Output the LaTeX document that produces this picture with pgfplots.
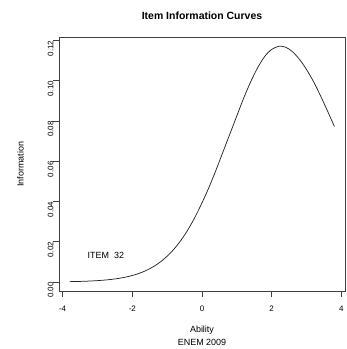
\documentclass[border=0pt]{standalone}
\usepackage{fontspec}
\setmainfont{Liberation Sans}
\usepackage{pgfplots}
\pgfplotsset{compat=1.18}
\begin{document}
\begin{tikzpicture}
\begin{axis}[
  scale only axis,
  width=286bp, height=253.5bp,
  xmin=-4.104, xmax=4.104,
  ymin=-0.00444, ymax=0.1214,
  xtick={-4,-2,0,2,4},
  ytick={0,0.02,0.04,0.06,0.08,0.1,0.12},
  yticklabels={0.00,0.02,0.04,0.06,0.08,0.10,0.12},
  xticklabels={-4,-2,0,2,4},
  tick align=outside,
  major tick length=5.5bp,
  xtick pos=bottom, ytick pos=left,
  axis line style={black!75, line width=0.6bp},
  every tick/.style={black!75, line width=0.6bp},
  tick label style={font=\fontsize{8}{9.6}\selectfont, inner sep=0pt},
  yticklabel style={rotate=90, anchor=base, xshift=-8.1bp},
  xticklabel style={anchor=base, yshift=-15.2bp},
  clip=false,
]
\addplot[black!85, line width=0.75bp, smooth] coordinates {
(-3.8,0.000200) (-3.6,0.000276) (-3.4,0.000380) (-3.2,0.000521)
(-3.0,0.000713) (-2.8,0.000973) (-2.6,0.001324) (-2.4,0.001796)
(-2.2,0.002425) (-2.0,0.003258) (-1.8,0.004345) (-1.6,0.005762)
(-1.4,0.007591) (-1.2,0.00992) (-1.0,0.01284) (-0.8,0.01643)
(-0.6,0.02083) (-0.4,0.02609) (-0.2,0.03227) (0.0,0.03935)
(0.2,0.04700) (0.4,0.05550) (0.6,0.06450) (0.8,0.07350)
(1.0,0.08250) (1.2,0.09150) (1.4,0.09950) (1.6,0.10650)
(1.8,0.11200) (2.0,0.11550) (2.2,0.11700) (2.4,0.11660)
(2.6,0.11430) (2.8,0.11050) (3.0,0.10550) (3.2,0.09950)
(3.4,0.09250) (3.6,0.08500) (3.8,0.07720)
};
\node[font=\fontsize{9}{10.8}\selectfont, anchor=center] at (axis cs:-2.76,0.0131) {ITEM\ \ 32};
\node[yshift=-41.3bp, font=\fontsize{9}{10.8}\selectfont, anchor=base] at (axis description cs:0.5,0) {Ability};
\node[yshift=-54.7bp, font=\fontsize{9}{10.8}\selectfont, anchor=base] at (axis description cs:0.5,0) {ENEM 2009};
\node[xshift=-35.3bp, rotate=90, font=\fontsize{9}{10.8}\selectfont, anchor=base] at (axis description cs:0,0.5) {Information};
\node[yshift=18.2bp, font=\bfseries\fontsize{10.5}{12.6}\selectfont, anchor=base] at (axis description cs:0.5,1) {Item Information Curves};
\end{axis}
\pgfresetboundingbox
\path[use as bounding box] (-59bp,-58bp) rectangle (288bp,291bp);
\end{tikzpicture}
\end{document}
